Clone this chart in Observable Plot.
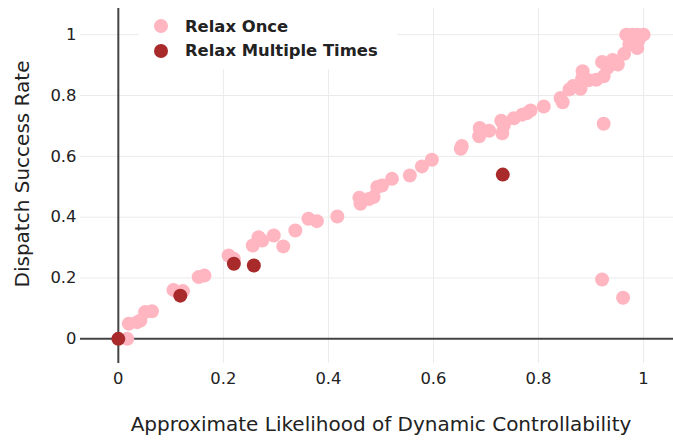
<!DOCTYPE html>
<html><head><meta charset="utf-8">
<script src="https://cdn.jsdelivr.net/npm/d3@7"></script>
<script src="https://cdn.jsdelivr.net/npm/@observablehq/plot@0.6"></script>
<style>
body{margin:0;background:#fff;}
#wrap{position:relative;width:673px;height:445px;}
#legend{position:absolute;left:139px;top:8px;width:258px;height:61px;background:#fff;font:bold 16.4px "DejaVu Sans",Verdana,sans-serif;color:#222;}
#legend .sw{position:absolute;left:15px;width:14px;height:14px;border-radius:50%;}
#legend .lb{position:absolute;left:46px;line-height:20px;white-space:nowrap;}
</style></head><body><div id="wrap"><div id="legend"></div></div>
<script>
const seriesNames = ["Relax Once", "Relax Multiple Times"];
const seriesColors = ["#ffb6c1", "#a82a2a"];

const onceX = [0.017,0.02,0.036,0.042,0.051,0.064,0.105,0.123,0.153,0.164,0.21,0.22,0.256,0.267,0.274,0.296,0.314,0.337,0.362,0.378,0.417,0.459,0.461,0.477,0.486,0.493,0.502,0.521,0.555,0.578,0.597,0.652,0.654,0.688,0.687,0.706,0.729,0.731,0.734,0.753,0.769,0.778,0.785,0.81,0.842,0.846,0.859,0.866,0.88,0.883,0.884,0.895,0.91,0.924,0.921,0.924,0.931,0.941,0.951,0.963,0.973,0.988,0.967,0.979,0.988,1.0,0.976,0.987,0.921,0.961,0.99];
const onceY = [0.0,0.05,0.055,0.06,0.088,0.091,0.161,0.157,0.203,0.208,0.274,0.263,0.307,0.334,0.323,0.34,0.304,0.356,0.395,0.387,0.402,0.464,0.444,0.46,0.466,0.499,0.504,0.526,0.537,0.567,0.589,0.625,0.634,0.693,0.666,0.684,0.717,0.676,0.702,0.725,0.737,0.742,0.751,0.764,0.792,0.778,0.82,0.831,0.822,0.855,0.88,0.85,0.852,0.707,0.91,0.863,0.89,0.917,0.902,0.937,0.968,0.956,1.0,1.0,1.0,1.0,0.984,0.992,0.195,0.135,0.98];
const multiX = [0, 0.118, 0.22, 0.258, 0.732];
const multiY = [0, 0.142, 0.247, 0.241, 0.54];

const xTicks = [0, 0.2, 0.4, 0.6, 0.8, 1];
const yTicks = [0, 0.2, 0.4, 0.6, 0.8, 1];
const xTitle = "Approximate Likelihood of Dynamic Controllability";
const yTitle = "Dispatch Success Rate";

const once = onceX.map((x, i) => ({x, y: onceY[i]}));
const multi = multiX.map((x, i) => ({x, y: multiY[i]}));
const fmt = d => String(d);

const chart = Plot.plot({
  width: 673,
  height: 445,
  marginLeft: 80,
  marginRight: 0,
  marginTop: 8,
  marginBottom: 82,
  style: {fontFamily: '"DejaVu Sans", Verdana, sans-serif', fontSize: "16px", color: "#222", background: "white"},
  x: {domain: [-0.072, 1.057]},
  y: {domain: [-0.081, 1.086]},
  marks: [
    Plot.gridX(xTicks.filter(d => d !== 0), {stroke: "#ebebeb", strokeOpacity: 1, strokeWidth: 1}),
    Plot.gridY(yTicks.filter(d => d !== 0), {stroke: "#ebebeb", strokeOpacity: 1, strokeWidth: 1}),
    Plot.ruleX([0], {stroke: "#444", strokeWidth: 2}),
    Plot.ruleY([0], {stroke: "#444", strokeWidth: 2}),
    Plot.axisX(xTicks, {tickSize: 0, tickPadding: 9, fill: "#222", tickFormat: fmt, label: null, fontSize: 16.4}),
    Plot.axisY(yTicks, {tickSize: 0, tickPadding: 4, fill: "#222", tickFormat: fmt, label: null, fontSize: 16.4}),
    Plot.text([xTitle], {frameAnchor: "bottom", textAnchor: "middle", dx: 4, dy: 67, fontSize: 20, fill: "#222"}),
    Plot.text([yTitle], {frameAnchor: "left", textAnchor: "middle", dx: -58, dy: -12, rotate: -90, fontSize: 20, fill: "#222"}),
    Plot.dot(once, {x: "x", y: "y", r: 7, fill: seriesColors[0], stroke: "none"}),
    Plot.dot(multi, {x: "x", y: "y", r: 7, fill: seriesColors[1], stroke: "none"})
  ]
});
document.getElementById("wrap").prepend(chart);

const legend = document.getElementById("legend");
const swTops = [11, 36], lbTops = [9, 33];
seriesNames.forEach((name, i) => {
  const sw = document.createElement("div");
  sw.className = "sw"; sw.style.top = swTops[i] + "px"; sw.style.background = seriesColors[i];
  const lb = document.createElement("div");
  lb.className = "lb"; lb.style.top = lbTops[i] + "px"; lb.textContent = name;
  legend.append(sw, lb);
});
</script>
</body></html>
